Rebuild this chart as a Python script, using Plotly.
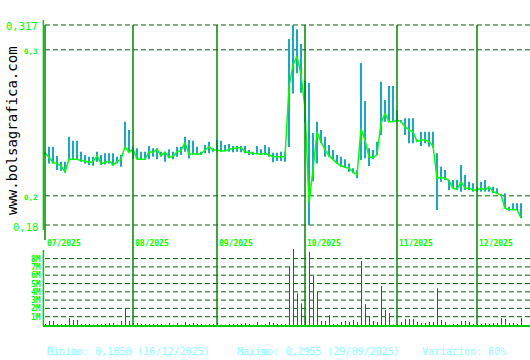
import plotly.graph_objects as go

# ---------------- data ----------------
close = [0.2291, 0.2264, 0.2227, 0.2222, 0.2204, 0.2165, 0.2250, 0.2250, 0.2250, 0.2241,
         0.2238, 0.2229, 0.2234, 0.2275, 0.2222, 0.2227, 0.2241, 0.2211, 0.2234, 0.2250,
         0.2336, 0.2298, 0.2321, 0.2250, 0.2250, 0.2250, 0.2302, 0.2298, 0.2318, 0.2275,
         0.2298, 0.2264, 0.2268, 0.2302, 0.2309, 0.2364, 0.2286, 0.2286, 0.2286, 0.2286,
         0.2314, 0.2336, 0.2314, 0.2314, 0.2307, 0.2307, 0.2318, 0.2325, 0.2329, 0.2329,
         0.2302, 0.2295, 0.2291, 0.2284, 0.2284, 0.2291, 0.2279, 0.2268, 0.2268, 0.2268,
         0.2268, 0.2747, 0.2896, 0.2955, 0.2830, 0.2600, 0.1949, 0.2177, 0.2435, 0.2371,
         0.2314, 0.2275, 0.2250, 0.2222, 0.2204, 0.2195, 0.2188, 0.2165, 0.2142, 0.2458,
         0.2382, 0.2265, 0.2261, 0.2280, 0.2497, 0.2565, 0.2508, 0.2508, 0.2519, 0.2508,
         0.2473, 0.2451, 0.2439, 0.2371, 0.2382, 0.2382, 0.2371, 0.2341, 0.2120, 0.2127,
         0.2120, 0.2104, 0.2051, 0.2044, 0.2097, 0.2051, 0.2051, 0.2040, 0.2040, 0.2051,
         0.2040, 0.2062, 0.2028, 0.2017, 0.2005, 0.1914, 0.1907, 0.1907, 0.1903, 0.1850]

high = [0.2300, 0.2336, 0.2336, 0.2273, 0.2234, 0.2234, 0.2405, 0.2377, 0.2377, 0.2302,
        0.2279, 0.2268, 0.2268, 0.2302, 0.2279, 0.2291, 0.2291, 0.2291, 0.2268, 0.2279,
        0.2508, 0.2451, 0.2336, 0.2325, 0.2302, 0.2302, 0.2341, 0.2325, 0.2325, 0.2302,
        0.2302, 0.2318, 0.2302, 0.2336, 0.2336, 0.2405, 0.2382, 0.2377, 0.2336, 0.2302,
        0.2348, 0.2371, 0.2325, 0.2382, 0.2377, 0.2348, 0.2355, 0.2341, 0.2341, 0.2341,
        0.2341, 0.2314, 0.2302, 0.2341, 0.2318, 0.2348, 0.2332, 0.2295, 0.2295, 0.2302,
        0.2302, 0.3074, 0.3170, 0.3140, 0.3040, 0.2790, 0.2773, 0.2430, 0.2508, 0.2451,
        0.2405, 0.2348, 0.2314, 0.2279, 0.2268, 0.2250, 0.2222, 0.2188, 0.2177, 0.2910,
        0.2650, 0.2325, 0.2314, 0.2371, 0.2782, 0.2656, 0.2752, 0.2752, 0.2588, 0.2520,
        0.2531, 0.2531, 0.2531, 0.2385, 0.2439, 0.2439, 0.2439, 0.2439, 0.2291, 0.2199,
        0.2177, 0.2108, 0.2108, 0.2108, 0.2211, 0.2142, 0.2097, 0.2086, 0.2060, 0.2097,
        0.2108, 0.2062, 0.2062, 0.2051, 0.2010, 0.2017, 0.1925, 0.1949, 0.1949, 0.1949]

low = [0.2279, 0.2222, 0.2222, 0.2177, 0.2172, 0.2158, 0.2250, 0.2250, 0.2245, 0.2234,
       0.2222, 0.2211, 0.2206, 0.2234, 0.2211, 0.2215, 0.2222, 0.2206, 0.2222, 0.2199,
       0.2336, 0.2298, 0.2250, 0.2250, 0.2250, 0.2250, 0.2250, 0.2268, 0.2250, 0.2268,
       0.2234, 0.2257, 0.2250, 0.2268, 0.2279, 0.2302, 0.2257, 0.2279, 0.2279, 0.2279,
       0.2291, 0.2291, 0.2302, 0.2302, 0.2302, 0.2307, 0.2302, 0.2298, 0.2302, 0.2298,
       0.2291, 0.2279, 0.2279, 0.2284, 0.2279, 0.2279, 0.2268, 0.2229, 0.2238, 0.2238,
       0.2234, 0.2334, 0.2700, 0.2840, 0.2706, 0.2500, 0.1800, 0.2100, 0.2222, 0.2360,
       0.2268, 0.2268, 0.2245, 0.2222, 0.2199, 0.2190, 0.2165, 0.2154, 0.2120, 0.2245,
       0.2257, 0.2204, 0.2250, 0.2280, 0.2416, 0.2508, 0.2508, 0.2508, 0.2508, 0.2500,
       0.2416, 0.2360, 0.2360, 0.2371, 0.2341, 0.2360, 0.2336, 0.2329, 0.1903, 0.2097,
       0.2108, 0.2040, 0.2051, 0.2040, 0.2028, 0.2040, 0.2040, 0.2028, 0.2030, 0.2028,
       0.2028, 0.2028, 0.2017, 0.2017, 0.2000, 0.1914, 0.1897, 0.1903, 0.1903, 0.1846]

volume_m = [0.12, 0.48, 0.48, 0.12, 0.12, 0.12, 0.84, 0.60, 0.60, 0.12,
            0.12, 0.12, 0.05, 0.12, 0.12, 0.12, 0.24, 0.24, 0.05, 0.48,
            2.05, 0.48, 0.24, 0.24, 0.12, 0.12, 0.12, 0.12, 0.12, 0.12,
            0.05, 0.24, 0.05, 0.24, 0.05, 0.36, 0.12, 0.24, 0.12, 0.12,
            0.05, 0.12, 0.12, 0.24, 0.05, 0.05, 0.12, 0.12, 0.12, 0.12,
            0.24, 0.12, 0.05, 0.36, 0.05, 0.12, 0.36, 0.24, 0.12, 0.12,
            0.12, 7.02, 9.30, 3.81, 2.61, 1.08, 8.83, 5.90, 4.00, 0.48,
            0.48, 1.20, 0.12, 0.12, 0.36, 0.48, 0.36, 0.60, 0.36, 7.71,
            2.53, 1.08, 0.48, 0.36, 4.70, 1.81, 1.45, 0.05, 0.12, 0.36,
            0.72, 0.72, 0.72, 0.36, 0.24, 0.24, 0.36, 0.36, 4.42, 0.60,
            0.36, 0.05, 0.12, 0.12, 0.48, 0.48, 0.36, 0.12, 0.12, 0.12,
            0.24, 0.12, 0.24, 0.24, 0.84, 0.72, 0.24, 0.24, 0.12, 0.84]

month_start_idx = [0, 22, 43, 65, 88, 108]
month_labels = ["07/2025", "08/2025", "09/2025", "10/2025", "11/2025", "12/2025"]

price_ticks = [0.18, 0.2, 0.3, 0.317]
price_tick_labels = ["0,18", "0,2", "0,3", "0,317"]

volume_ticks = [1, 2, 3, 4, 5, 6, 7, 8]
volume_tick_labels = ["1M", "2M", "3M", "4M", "5M", "6M", "7M", "8M"]

footer_texts = ["Minimo: 0,1850 (16/12/2025)",
                "Maximo: 0,2955 (29/09/2025)",
                "Variación: 60%"]

# ---------------- geometry / style ----------------
W, H = 530, 360
L, R, T, B = 43, 0, 20, 34
PH = H - T - B          # plot height in px (306)
PW = W - L - R          # 487
PX_PER_DAY = 4.0


def py(px):              # pixel row -> paper y
    return (H - B - px) / PH


def pxx(px):             # pixel column -> paper x
    return (px - L) / PW


idx = list(range(len(close)))

BRIGHT = "#00FF00"
AXIS_GREEN = "#00CC00"
GRID_DARK = "#006400"
MONTH_GREEN = "#008800"
TEAL = "#19A9C2"
RED = "#FF0000"
FOOT = "#8CFFFF"
MONO = "DejaVu Sans Mono"

fig = go.Figure()

# high-low bars (2 px wide, aligned on whole pixels)
fig.add_trace(go.Bar(
    x=idx, y=[h - l for h, l in zip(high, low)], base=low,
    width=2 / PX_PER_DAY, offset=-1 / PX_PER_DAY,
    marker=dict(color=TEAL, line=dict(width=0)),
    xaxis="x", yaxis="y", hoverinfo="skip"))

# close line
fig.add_trace(go.Scatter(
    x=idx, y=close, mode="lines", line=dict(color=BRIGHT, width=1.5),
    xaxis="x", yaxis="y", hoverinfo="skip"))

# volume bars as 1 px vertical strokes, centred on a whole pixel column
half_px = 0.5 / PX_PER_DAY
vx, vy = [], []
for i, v in zip(idx, volume_m):
    vx += [i + half_px, i + half_px, None]
    vy += [0, v, None]
fig.add_trace(go.Scatter(
    x=vx, y=vy, mode="lines", line=dict(color=RED, width=1),
    xaxis="x", yaxis="y2", hoverinfo="skip", connectgaps=False))

shapes = []
for v in price_ticks:
    shapes.append(dict(type="line", xref="paper", x0=pxx(45), x1=1, yref="y",
                       y0=v, y1=v, layer="below",
                       line=dict(color=GRID_DARK, width=1, dash="5px,3px")))
for v in volume_ticks:
    shapes.append(dict(type="line", xref="paper", x0=pxx(45), x1=1, yref="y2",
                       y0=v, y1=v, layer="below",
                       line=dict(color=GRID_DARK, width=1, dash="5px,3px")))
for k, m in enumerate(month_start_idx):
    shapes.append(dict(type="line", xref="x", x0=m, x1=m, yref="paper",
                       y0=py(240) if k == 0 else py(326), y1=py(25),
                       layer="above", line=dict(color=MONTH_GREEN, width=1.5)))
shapes.append(dict(type="line", xref="paper", x0=pxx(43.4), x1=pxx(43.4),
                   yref="paper", y0=py(230), y1=py(20),
                   line=dict(color=AXIS_GREEN, width=1.5)))
shapes.append(dict(type="line", xref="paper", x0=pxx(43.4), x1=pxx(43.4),
                   yref="paper", y0=py(326), y1=py(250),
                   line=dict(color=AXIS_GREEN, width=1.5)))
shapes.append(dict(type="line", xref="paper", x0=0, x1=1,
                   yref="paper", y0=py(326), y1=py(326),
                   line=dict(color=AXIS_GREEN, width=2)))

annotations = []
pmin, pmax = min(price_ticks), max(price_ticks)
for v, lab in zip(price_ticks, price_tick_labels):
    big = v in (pmin, pmax)
    annotations.append(dict(
        xref="paper", x=pxx(40), xanchor="right", yref="y", y=v, yanchor="middle",
        yshift=-1.5, text=lab, showarrow=False,
        font=dict(family=MONO, size=10.5 if big else 7.5, color=BRIGHT,
                  weight="normal" if big else "bold")))
for v, lab in zip(volume_ticks, volume_tick_labels):
    annotations.append(dict(
        xref="paper", x=pxx(43), xanchor="right", yref="y2", y=v, yanchor="middle",
        yshift=-0.5, text=lab, showarrow=False,
        font=dict(family=MONO, size=8, color=BRIGHT, weight="bold")))
for m, lab in zip(month_start_idx, month_labels):
    annotations.append(dict(
        xref="x", x=m, xanchor="left", xshift=-0.5, yref="paper", y=py(243),
        yanchor="middle", text=lab, showarrow=False,
        font=dict(family=MONO, size=8, color=BRIGHT, weight="bold")))
annotations.append(dict(
    xref="paper", x=pxx(12), xanchor="center", yref="paper", y=py(131),
    yanchor="middle", text="www.bolsagrafica.com", textangle=-90, showarrow=False,
    font=dict(family=MONO, size=14, color="#000000")))
for xpix, txt in zip([45, 235, 420], footer_texts):
    annotations.append(dict(
        xref="paper", x=pxx(xpix), xanchor="left", yref="paper", y=py(351),
        yanchor="middle", text=txt, showarrow=False,
        font=dict(family=MONO, size=10, color=FOOT)))

fig.update_layout(
    width=W, height=H,
    margin=dict(l=L, r=R, t=T, b=B, pad=0),
    paper_bgcolor="white", plot_bgcolor="white",
    showlegend=False, barmode="overlay",
    xaxis=dict(range=[-0.5, -0.5 + PW / PX_PER_DAY], visible=False, fixedrange=True),
    yaxis=dict(domain=[py(230), 1.0],
               range=[0.18 - 5 / 1460, 0.18 + 205 / 1460],
               visible=False, fixedrange=True),
    yaxis2=dict(domain=[0, py(249)],
                range=[-1 / 8.3, 76 / 8.3],
                visible=False, fixedrange=True),
    shapes=shapes, annotations=annotations,
)

fig.write_html("out.html")
